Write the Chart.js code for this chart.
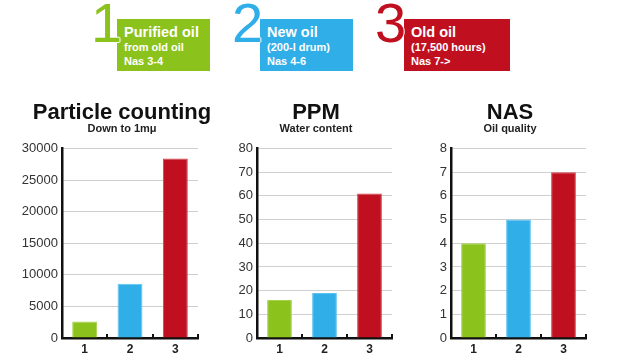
<!DOCTYPE html>
<html>
<head>
<meta charset="utf-8">
<script src="https://cdn.jsdelivr.net/npm/chart.js@4/dist/chart.umd.min.js"></script>
<style>
  body { margin: 0; background: #fff; font-family: "Liberation Sans", Arial, sans-serif; }
  #page { position: relative; width: 620px; height: 362px; overflow: hidden; }
  .digit { position: absolute; top: -5px; font-size: 56px; line-height: 56px; font-weight: normal;
           text-shadow: 1px 0 #fff, -1px 0 #fff, 0 1px #fff, 0 -1px #fff; z-index: 2; }
  .box { position: absolute; top: 19px; height: 52px; color: #fff; font-weight: bold; box-sizing: border-box; padding-left: 7px; }
  .box .big { font-size: 14.5px; line-height: 15px; margin-top: 6px; }
  .box .small { font-size: 11px; line-height: 14px; }
  .chartbox { position: absolute; top: 95px; height: 267px; }
  .chartbox canvas { display: block; }
</style>
</head>
<body>
<div id="page">
  <div class="digit" style="left:91px;color:#8cc21c">1</div>
  <div class="box" style="left:117px;width:93px;background:#8cc21c">
    <div class="big">Purified oil</div>
    <div class="small">from old oil</div>
    <div class="small">Nas 3-4</div>
  </div>
  <div class="digit" style="left:232px;color:#30aee8">2</div>
  <div class="box" style="left:260px;width:93px;background:#30aee8">
    <div class="big">New oil</div>
    <div class="small">(200-l drum)</div>
    <div class="small">Nas 4-6</div>
  </div>
  <div class="digit" style="left:375px;color:#c0101f">3</div>
  <div class="box" style="left:404px;width:106px;background:#c0101f">
    <div class="big">Old oil</div>
    <div class="small">(17,500 hours)</div>
    <div class="small">Nas 7-></div>
  </div>

  <div class="chartbox" style="left:0px;width:232px"><canvas id="particles"></canvas></div>
  <div class="chartbox" style="left:220px;width:182px"><canvas id="ppm"></canvas></div>
  <div class="chartbox" style="left:420px;width:176px"><canvas id="nas"></canvas></div>
</div>

<script>
// Data
const categories = ["1", "2", "3"];
const barColors = ["#8cc21c", "#30aee8", "#c0101f"];
const edgeColors = ["#a6d44a", "#5ec2f0", "#d4404a"];

const particleCounts = [2600, 8600, 28400];
const particleTicks = { max: 30000, step: 5000 };

const waterPpm = [16, 19, 61];
const ppmTicks = { max: 80, step: 10 };

const nasClass = [4, 5, 7];
const nasTicks = { max: 8, step: 1 };

// little upward ticks on the x axis at category boundaries
const boundaryTicks = {
  id: 'boundaryTicks',
  afterDraw(chart) {
    const x = chart.scales.x;
    const ctx = chart.ctx;
    ctx.save();
    ctx.strokeStyle = '#111';
    ctx.lineWidth = 2;
    for (let i = 0; i <= categories.length; i++) {
      const px = Math.round(x.getPixelForValue(i - 0.5));
      ctx.beginPath();
      ctx.moveTo(px, chart.chartArea.bottom);
      ctx.lineTo(px, chart.chartArea.bottom - 4);
      ctx.stroke();
    }
    ctx.restore();
  }
};

function makeChart(id, title, subtitle, values, ticks, opts) {
  const ctx = document.getElementById(id).getContext('2d');
  const scales = {
    x: {
      grid: { display: false, drawTicks: false },
      border: { display: true, color: '#111', width: 2.5 },
      ticks: {
        color: '#222',
        padding: 6,
        font: { family: 'Liberation Sans', size: 12, weight: 'bold', lineHeight: 1 }
      }
    },
    y: {
      min: 0,
      max: ticks.max,
      afterFit(scale) { scale.width = opts.axisWidth; },
      grid: { color: '#cfcfcf', lineWidth: 1, drawTicks: false },
      border: { display: true, color: '#111', width: 2.5 },
      ticks: {
        stepSize: ticks.step,
        color: '#333',
        padding: 4,
        font: { family: 'Liberation Sans', size: 13 },
        callback: v => String(v)
      }
    }
  };
  // empty right-hand box so the title centres where the original has it
  if (opts.rightGap) {
    scales.gap = {
      type: 'linear',
      position: 'right',
      afterFit(scale) { scale.width = opts.rightGap; },
      grid: { display: false },
      border: { display: false },
      ticks: { display: false }
    };
  }
  return new Chart(ctx, {
    type: 'bar',
    data: {
      labels: categories,
      datasets: [{
        data: values,
        backgroundColor: barColors,
        borderColor: edgeColors,
        borderWidth: 1,
        borderSkipped: 'bottom',
        categoryPercentage: 1,
        barPercentage: 0.55
      }]
    },
    options: {
      responsive: true,
      maintainAspectRatio: false,
      animation: false,
      layout: { padding: { left: opts.padLeft, right: opts.padRight, top: 0, bottom: 0 } },
      plugins: {
        legend: { display: false },
        tooltip: { enabled: false },
        title: {
          display: true,
          text: title,
          color: '#111',
          font: { family: 'Liberation Sans', size: 22, weight: 'bold', lineHeight: 1 },
          padding: { top: 6.5, bottom: 0 }
        },
        subtitle: {
          display: true,
          text: subtitle,
          color: '#222',
          font: { family: 'Liberation Sans', size: 11, weight: 'bold', lineHeight: 1 },
          padding: { top: 0, bottom: 14 }
        }
      },
      scales: scales
    },
    plugins: [boundaryTicks]
  });
}

makeChart('particles', 'Particle counting', 'Down to 1m\u03bc', particleCounts, particleTicks,
  { padLeft: 20, padRight: 8, axisWidth: 42, rightGap: 26 });
makeChart('ppm', 'PPM', 'Water content', waterPpm, ppmTicks,
  { padLeft: 16, padRight: 6, axisWidth: 21, rightGap: 4 });
makeChart('nas', 'NAS', 'Oil quality', nasClass, nasTicks,
  { padLeft: 10, padRight: 6, axisWidth: 21, rightGap: 4 });
</script>
</body>
</html>
